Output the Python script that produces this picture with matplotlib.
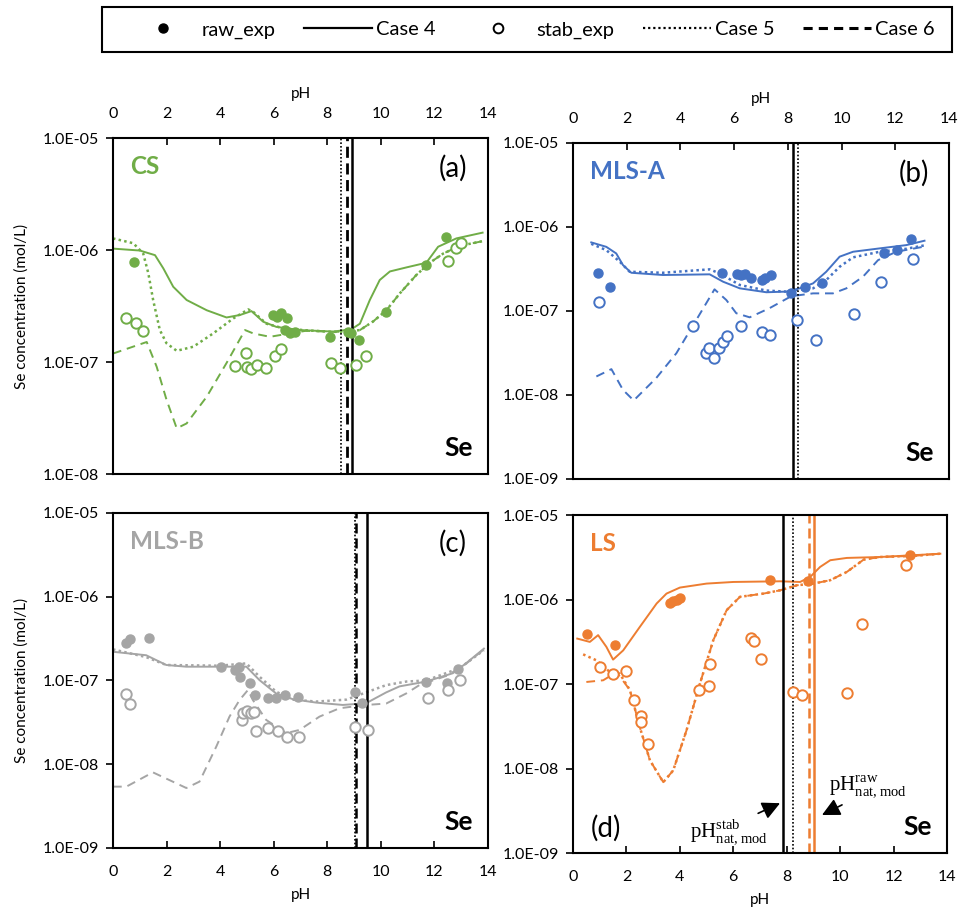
import numpy as np
import matplotlib
matplotlib.use("Agg")
import matplotlib.pyplot as plt
from matplotlib.lines import Line2D
from matplotlib.patches import Rectangle
from matplotlib.ticker import FixedLocator, FuncFormatter, NullLocator

plt.rcParams['font.family'] = ['Lato', 'DejaVu Sans']
plt.rcParams['mathtext.fontset'] = 'custom'
plt.rcParams['mathtext.rm'] = 'Liberation Serif'

GREEN = '#70AD47'
BLUE = '#4472C4'
GRAY = '#A5A5A5'
ORANGE = '#ED7D31'

# ---- (a) CS
a_raw_ph = [0.80, 5.98, 6.14, 6.29, 6.48, 6.42, 6.60, 6.79, 8.10, 8.78, 8.90, 9.19, 10.21, 11.68, 12.43]
a_raw_se = [7.9e-7, 2.63e-7, 2.5e-7, 2.72e-7, 2.45e-7, 1.93e-7, 1.8e-7, 1.86e-7, 1.68e-7, 1.86e-7, 1.8e-7, 1.58e-7, 2.8e-7, 7.35e-7, 1.30e-6]
a_stab_ph = [0.49, 0.85, 1.13, 4.55, 4.95, 4.99, 5.14, 5.36, 5.70, 6.04, 6.26, 8.13, 8.49, 9.07, 9.43, 12.51, 12.79, 13.01]
a_stab_se = [2.45e-7, 2.21e-7, 1.9e-7, 9.27e-8, 1.21e-7, 8.95e-8, 8.6e-8, 9.5e-8, 8.8e-8, 1.13e-7, 1.32e-7, 9.9e-8, 8.8e-8, 9.5e-8, 1.14e-7, 7.98e-7, 1.04e-6, 1.15e-6]
a_c4_ph = [0, 1.0, 1.57, 1.88, 2.25, 2.75, 3.5, 4.24, 4.74, 5.17, 5.61, 6.1, 6.98, 8.22, 8.9, 9.22, 9.59, 9.96, 10.34, 10.96, 11.7, 12.14, 12.82, 13.8]
a_c4_se = [1.03e-6, 9.9e-7, 9.0e-7, 6.86e-7, 4.7e-7, 3.58e-7, 2.9e-7, 2.5e-7, 2.63e-7, 2.85e-7, 2.29e-7, 2.06e-7, 1.93e-7, 1.87e-7, 1.96e-7, 2.2e-7, 3.58e-7, 5.4e-7, 6.44e-7, 7.0e-7, 7.7e-7, 1.07e-6, 1.27e-6, 1.43e-6]
a_c5_ph = [0, 0.76, 1.13, 1.32, 1.5, 1.75, 2.0, 2.38, 3.0, 3.74, 4.49, 5.05, 5.24, 5.73, 6.36, 7.2, 8.22, 8.72, 9.22, 9.71, 10.21, 10.71, 11.33, 11.83, 12.33, 12.95, 13.8]
a_c5_se = [1.27e-6, 1.15e-6, 9.3e-7, 6.2e-7, 3.58e-7, 1.93e-7, 1.47e-7, 1.26e-7, 1.37e-7, 1.8e-7, 2.45e-7, 2.95e-7, 2.8e-7, 2.2e-7, 2.0e-7, 1.92e-7, 1.86e-7, 1.87e-7, 1.93e-7, 2.3e-7, 2.9e-7, 4.1e-7, 6.0e-7, 7.7e-7, 9.3e-7, 1.09e-6, 1.2e-6]
a_c6_ph = [0, 1.26, 1.63, 2.0, 2.38, 2.75, 3.5, 4.24, 4.93, 5.24, 5.86, 6.6, 7.2, 8.22, 8.72, 9.22, 9.71, 10.21, 10.71, 11.33, 11.83, 12.33, 12.95, 13.8]
a_c6_se = [1.19e-7, 1.51e-7, 9.1e-8, 4.6e-8, 2.56e-8, 2.83e-8, 4.9e-8, 9.8e-8, 1.93e-7, 1.8e-7, 1.68e-7, 1.8e-7, 1.9e-7, 1.86e-7, 1.87e-7, 1.93e-7, 2.3e-7, 2.9e-7, 4.1e-7, 6.0e-7, 7.7e-7, 9.3e-7, 1.09e-6, 1.2e-6]
a_vl_ph = [8.53, 8.72, 8.93]

# ---- (b) MLS-A
b_raw_ph = [0.93, 1.37, 5.56, 6.11, 6.25, 6.42, 6.64, 7.05, 7.15, 7.38, 8.13, 8.63, 9.27, 11.6, 12.08, 12.6]
b_raw_se = [2.8e-7, 1.91e-7, 2.8e-7, 2.75e-7, 2.7e-7, 2.73e-7, 2.45e-7, 2.34e-7, 2.5e-7, 2.68e-7, 1.62e-7, 1.94e-7, 2.17e-7, 4.84e-7, 5.3e-7, 7.1e-7]
b_stab_ph = [0.97, 4.47, 4.96, 5.06, 5.25, 5.42, 5.59, 5.73, 6.27, 7.04, 7.35, 8.35, 9.04, 10.45, 11.46, 12.68]
b_stab_se = [1.29e-7, 6.7e-8, 3.14e-8, 3.6e-8, 2.74e-8, 3.66e-8, 4.3e-8, 5.05e-8, 6.7e-8, 5.68e-8, 5.19e-8, 7.8e-8, 4.5e-8, 9.2e-8, 2.23e-7, 4.15e-7]
b_c4_ph = [0.68, 1.24, 1.61, 1.86, 2.17, 3.35, 5.09, 5.59, 6.21, 7.2, 7.94, 8.44, 8.94, 9.43, 9.93, 10.43, 11.42, 12.41, 13.09]
b_c4_se = [6.55e-7, 5.8e-7, 4.84e-7, 3.52e-7, 2.85e-7, 2.68e-7, 2.73e-7, 2.23e-7, 1.86e-7, 1.67e-7, 1.7e-7, 1.86e-7, 2.13e-7, 2.93e-7, 4.43e-7, 5.07e-7, 5.56e-7, 6.08e-7, 6.86e-7]
b_c5_ph = [0.68, 1.24, 1.74, 2.11, 3.35, 5.09, 5.46, 6.21, 7.2, 7.94, 8.44, 8.94, 9.43, 9.93, 10.43, 11.42, 12.41, 13.16]
b_c5_se = [6.3e-7, 5.3e-7, 3.86e-7, 2.93e-7, 2.85e-7, 3.13e-7, 2.8e-7, 2.04e-7, 1.75e-7, 1.7e-7, 1.8e-7, 1.86e-7, 2.33e-7, 3.36e-7, 4.35e-7, 5.07e-7, 5.5e-7, 6.1e-7]
b_c6_ph = [0.87, 1.43, 1.86, 2.26, 3.1, 3.85, 4.59, 5.27, 5.71, 6.08, 6.58, 7.32, 8.13, 8.94, 9.68, 10.18, 10.8, 11.36, 12.04, 13.16]
b_c6_se = [1.66e-8, 2.03e-8, 1.15e-8, 8.6e-9, 1.59e-8, 3.14e-8, 7.8e-8, 1.81e-7, 1.35e-7, 9.4e-8, 8.4e-8, 1.08e-7, 1.5e-7, 1.62e-7, 1.62e-7, 1.86e-7, 2.56e-7, 4.03e-7, 5.07e-7, 5.9e-7]
b_vl_ph = [8.18, 8.38]

# ---- (c) MLS-B
c_raw_ph = [0.47, 0.62, 1.34, 4.04, 4.54, 4.69, 4.75, 5.1, 5.29, 5.78, 6.09, 6.44, 6.9, 9.05, 9.3, 11.69, 12.46, 12.9]
c_raw_se = [2.77e-7, 3.1e-7, 3.18e-7, 1.46e-7, 1.33e-7, 1.46e-7, 1.11e-7, 9.25e-8, 6.7e-8, 6.2e-8, 6.1e-8, 6.7e-8, 6.3e-8, 7.2e-8, 5.4e-8, 9.7e-8, 9.4e-8, 1.37e-7]
c_stab_ph = [0.47, 0.62, 4.81, 4.85, 5.0, 5.16, 5.25, 5.35, 5.78, 6.16, 6.49, 6.94, 9.02, 9.51, 11.78, 12.5, 12.94]
c_stab_se = [6.8e-8, 5.3e-8, 3.4e-8, 4.06e-8, 4.37e-8, 4.06e-8, 4.25e-8, 2.5e-8, 2.69e-8, 2.52e-8, 2.1e-8, 2.14e-8, 2.77e-8, 2.57e-8, 6.2e-8, 7.6e-8, 1.01e-7]
c_c4_ph = [0, 1.24, 1.99, 2.74, 3.98, 4.98, 5.47, 6.09, 6.72, 7.59, 8.58, 9.45, 10.2, 10.7, 11.69, 12.69, 13.18, 13.85]
c_c4_se = [2.2e-7, 2.0e-7, 1.53e-7, 1.46e-7, 1.46e-7, 1.46e-7, 1.01e-7, 7.0e-8, 5.97e-8, 5.44e-8, 5.1e-8, 5.35e-8, 7.2e-8, 8.5e-8, 9.7e-8, 1.22e-7, 1.6e-7, 2.4e-7]
c_c5_ph = [0, 1.24, 1.99, 3.98, 4.98, 5.47, 6.09, 6.72, 7.59, 8.71, 9.45, 10.2, 10.95, 11.69, 12.94, 13.85]
c_c5_se = [2.35e-7, 1.9e-7, 1.53e-7, 1.5e-7, 1.6e-7, 1.11e-7, 7.35e-8, 5.9e-8, 5.6e-8, 5.9e-8, 7.2e-8, 8.8e-8, 9.7e-8, 1.0e-7, 1.4e-7, 2.3e-7]
c_c6_ph = [0, 0.5, 1.49, 2.74, 3.23, 3.86, 4.35, 4.73, 5.04, 5.22, 5.72, 6.47, 6.97, 7.71, 8.46, 9.45, 10.2, 10.95, 11.44, 12.5, 13.2, 13.85]
c_c6_se = [5.4e-9, 5.4e-9, 8.0e-9, 5.2e-9, 6.2e-9, 1.63e-8, 3.7e-8, 5.86e-8, 7.7e-8, 5.86e-8, 3.38e-8, 2.35e-8, 2.57e-8, 3.7e-8, 4.66e-8, 5.1e-8, 5.3e-8, 7.0e-8, 8.8e-8, 1.15e-7, 1.6e-7, 2.35e-7]
c_vl_ph = [9.03, 9.06, 9.47]

# ---- (d) LS
d_raw_ph = [0.53, 1.56, 3.63, 3.75, 3.88, 4.0, 7.38, 8.81, 12.63]
d_raw_se = [3.96e-7, 2.88e-7, 9.2e-7, 9.7e-7, 1.0e-6, 1.05e-6, 1.7e-6, 1.67e-6, 3.36e-6]
d_stab_ph = [1.0, 1.48, 2.0, 2.28, 2.53, 2.53, 2.81, 4.71, 5.1, 5.13, 6.65, 6.78, 7.03, 8.25, 8.56, 10.25, 10.81, 12.48]
d_stab_se = [1.6e-7, 1.31e-7, 1.42e-7, 6.4e-8, 4.16e-8, 3.56e-8, 1.97e-8, 8.45e-8, 9.5e-8, 1.75e-7, 3.52e-7, 3.24e-7, 2.0e-7, 8.07e-8, 7.4e-8, 7.85e-8, 5.1e-7, 2.6e-6]
d_c4_ph = [0.16, 0.63, 0.94, 1.25, 1.5, 1.88, 2.5, 3.13, 3.5, 4.0, 5.0, 6.0, 7.75, 8.5, 8.88, 9.25, 9.63, 10.25, 11.5, 12.75, 13.75]
d_c4_se = [3.46e-7, 3.16e-7, 3.8e-7, 2.76e-7, 1.95e-7, 2.51e-7, 4.75e-7, 9.0e-7, 1.18e-6, 1.39e-6, 1.55e-6, 1.62e-6, 1.65e-6, 1.62e-6, 1.86e-6, 2.44e-6, 2.93e-6, 3.12e-6, 3.2e-6, 3.36e-6, 3.5e-6]
d_c5_ph = [0.38, 0.88, 1.38, 1.75, 2.13, 2.5, 2.88, 3.38, 3.75, 4.25, 4.75, 5.25, 5.75, 6.25, 7.13, 7.75, 8.38, 9.0, 9.63, 10.25, 10.88, 11.5, 12.75, 13.75]
d_c5_se = [2.25e-7, 1.91e-7, 1.39e-7, 1.33e-7, 8.5e-8, 3.1e-8, 1.25e-8, 6.9e-9, 9.5e-9, 2.84e-8, 1.01e-7, 3.3e-7, 7.5e-7, 1.08e-6, 1.18e-6, 1.29e-6, 1.48e-6, 1.55e-6, 1.7e-6, 2.13e-6, 2.98e-6, 3.2e-6, 3.3e-6, 3.5e-6]
d_c6_ph = [0.5, 1.13, 1.63, 2.13, 2.5, 2.88, 3.38, 3.75, 4.25, 4.75, 5.25, 5.75, 6.25, 7.13, 7.75, 8.38, 9.0, 9.63, 10.25, 10.88, 11.5, 12.75, 13.75]
d_c6_se = [1.06e-7, 1.11e-7, 1.39e-7, 8.5e-8, 3.1e-8, 1.25e-8, 6.9e-9, 9.5e-9, 2.84e-8, 1.01e-7, 3.3e-7, 7.5e-7, 1.08e-6, 1.18e-6, 1.29e-6, 1.48e-6, 1.55e-6, 1.7e-6, 2.13e-6, 2.98e-6, 3.2e-6, 3.3e-6, 3.5e-6]
d_vl_ph = [7.85, 8.25, 8.83, 9.03]

x_ticks = [0, 2, 4, 6, 8, 10, 12, 14]

DOT = (0, (1, 1.3))
DASH = (0, (4.5, 3))

fig = plt.figure(figsize=(9.59, 9.13), dpi=100)
ax_a = fig.add_axes([0.1178, 0.4808, 0.391, 0.368])
ax_b = fig.add_axes([0.5975, 0.4754, 0.392, 0.368])
ax_c = fig.add_axes([0.1178, 0.0712, 0.391, 0.367])
ax_d = fig.add_axes([0.5975, 0.0657, 0.390, 0.370])


def sci(v, pos):
    return f"{v:.1E}"


def panel(ax, col, raw_ph, raw_se, stab_ph, stab_se, c4, c5, c6, ylo, top, name, tag, ylabel):
    ax.plot(c4[0], c4[1], color=col, lw=1.4, ls='-')
    ax.plot(c5[0], c5[1], color=col, lw=1.8, ls=DOT)
    ax.plot(c6[0], c6[1], color=col, lw=1.4, ls=DASH)
    ax.plot(raw_ph, raw_se, 'o', color=col, ms=6.5, zorder=4)
    ax.plot(stab_ph, stab_se, 'o', mfc='white', mec=col, mew=1.4, ms=7.5, zorder=4)
    ax.set_yscale('log')
    ax.set_ylim(ylo, 1e-5)
    ax.set_xlim(0, 14)
    decs = np.arange(int(round(np.log10(ylo))), -4)
    ax.yaxis.set_major_locator(FixedLocator([10.0 ** d for d in decs]))
    ax.yaxis.set_minor_locator(NullLocator())
    ax.yaxis.set_major_formatter(FuncFormatter(sci))
    ax.set_xticks(x_ticks)
    if top:
        ax.xaxis.tick_top()
        ax.xaxis.set_label_position('top')
    ax.tick_params(axis='x', direction='in', length=5, width=1.2, pad=12, labelsize=11.5)
    ax.tick_params(axis='y', direction='out', length=5, width=1.2, pad=5, labelsize=11.5)
    ax.set_xlabel('pH', fontsize=11, labelpad=7)
    if ylabel:
        ax.set_ylabel('Se concentration (mol/L)', fontsize=11, labelpad=10)
    for s in ax.spines.values():
        s.set_linewidth(1.5)
    ax.text(0.045, 0.915, name, transform=ax.transAxes, color=col, fontsize=17.5,
            fontweight='bold', ha='left', va='center')
    if tag == '(d)':
        ax.text(0.088, 0.074, tag, transform=ax.transAxes, fontsize=20, ha='center', va='center')
    else:
        ax.text(0.907, 0.91, tag, transform=ax.transAxes, fontsize=20, ha='center', va='center')
    ax.text(0.96, 0.077, 'Se', transform=ax.transAxes, fontsize=19, fontweight='bold',
            ha='right', va='center')


panel(ax_a, GREEN, a_raw_ph, a_raw_se, a_stab_ph, a_stab_se, (a_c4_ph, a_c4_se),
      (a_c5_ph, a_c5_se), (a_c6_ph, a_c6_se), 1e-8, True, 'CS', '(a)', True)
panel(ax_b, BLUE, b_raw_ph, b_raw_se, b_stab_ph, b_stab_se, (b_c4_ph, b_c4_se),
      (b_c5_ph, b_c5_se), (b_c6_ph, b_c6_se), 1e-9, True, 'MLS-A', '(b)', False)
panel(ax_c, GRAY, c_raw_ph, c_raw_se, c_stab_ph, c_stab_se, (c_c4_ph, c_c4_se),
      (c_c5_ph, c_c5_se), (c_c6_ph, c_c6_se), 1e-9, False, 'MLS-B', '(c)', True)
panel(ax_d, ORANGE, d_raw_ph, d_raw_se, d_stab_ph, d_stab_se, (d_c4_ph, d_c4_se),
      (d_c5_ph, d_c5_se), (d_c6_ph, d_c6_se), 1e-9, False, 'LS', '(d)', False)

# natural pH lines
ax_a.axvline(a_vl_ph[0], color='k', lw=1.2, ls=(0, (1, 1.2)))
ax_a.axvline(a_vl_ph[1], color='k', lw=2.0, ls=(0, (4, 2)))
ax_a.axvline(a_vl_ph[2], color='k', lw=1.8, ls='-')
ax_b.axvline(b_vl_ph[0], color='k', lw=1.8, ls='-')
ax_b.axvline(b_vl_ph[1], color='k', lw=1.2, ls=(0, (1, 1.2)))
ax_c.axvline(c_vl_ph[0], color='k', lw=1.2, ls=(0, (1, 1.2)))
ax_c.axvline(c_vl_ph[1], color='k', lw=1.8, ls=(0, (4, 2)))
ax_c.axvline(c_vl_ph[2], color='k', lw=1.8, ls='-')
ax_d.axvline(d_vl_ph[0], color='k', lw=1.8, ls='-')
ax_d.axvline(d_vl_ph[1], color='k', lw=1.2, ls=(0, (1, 1.2)))
ax_d.axvline(d_vl_ph[2], color=ORANGE, lw=1.8, ls=(0, (4, 2)))
ax_d.axvline(d_vl_ph[3], color=ORANGE, lw=1.8, ls='-')

arrow = dict(arrowstyle='-|>,head_length=0.9,head_width=0.45', color='k', lw=1.2,
             shrinkA=0, shrinkB=0, mutation_scale=12)
ax_d.annotate('', xy=(7.75, 10 ** -8.41), xytext=(6.93, 10 ** -8.53), arrowprops=arrow)
ax_d.annotate('', xy=(9.32, 10 ** -8.55), xytext=(10.07, 10 ** -8.43), arrowprops=arrow)
ax_d.text(0.418, 0.062, r'$\mathrm{pH}^{\mathrm{stab}}_{\mathrm{nat,mod}}$', transform=ax_d.transAxes,
          fontsize=15, ha='center', va='center')
ax_d.text(0.789, 0.197, r'$\mathrm{pH}^{\mathrm{raw}}_{\mathrm{nat,mod}}$', transform=ax_d.transAxes,
          fontsize=15, ha='center', va='center')

# legend box across the top
fig.patches.append(Rectangle((102 / 959, 1 - 52 / 913), 850 / 959, 45 / 913, transform=fig.transFigure,
                             fill=False, edgecolor='k', linewidth=1.5))
handles = [
    Line2D([], [], color='k', marker='o', ls='none', ms=6.5),
    Line2D([], [], color='k', lw=1.6, ls='-'),
    Line2D([], [], color='k', marker='o', mfc='white', mew=1.4, ls='none', ms=7),
    Line2D([], [], color='k', lw=1.6, ls=(0, (1, 1.3))),
    Line2D([], [], color='k', lw=2.2, ls=(0, (3, 2))),
]
labels = ['raw_exp', 'Case 4', 'stab_exp', 'Case 5', 'Case 6']
fig.legend(handles, labels, loc='center', ncol=5,
           bbox_to_anchor=(532 / 959, 1 - 30 / 913),
           fontsize=14.5, frameon=False, handlelength=3.4,
           handletextpad=0.2, columnspacing=1.4)

fig.savefig('out.png', dpi=100)
